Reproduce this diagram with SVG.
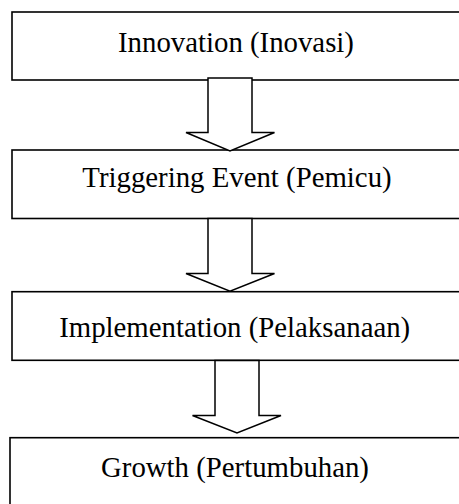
<svg xmlns="http://www.w3.org/2000/svg" width="459" height="504" viewBox="0 0 459 504">
<style>
.box{fill:#fff;stroke:#000;stroke-width:1.6}
.arr{fill:#fff;stroke:#000;stroke-width:1.5;stroke-linejoin:miter}
.lbl{font-family:"Liberation Serif","Times New Roman",serif;font-size:28.8px;fill:#000;text-anchor:middle}
</style>
<rect width="459" height="504" fill="#fff"/>
<g id="node-innovation">
<rect class="box" x="12" y="12" width="460" height="68"/>
<text class="lbl" x="236" y="52">Innovation (Inovasi)</text>
</g>
<g id="node-triggering">
<rect class="box" x="12" y="150" width="460" height="68.5"/>
<text class="lbl" x="237" y="187">Triggering Event (Pemicu)</text>
</g>
<g id="node-implementation">
<rect class="box" x="12" y="291.7" width="460" height="68.6"/>
<text class="lbl" x="234.7" y="336.7">Implementation (Pelaksanaan)</text>
</g>
<g id="node-growth">
<rect class="box" x="10" y="437.7" width="460" height="80"/>
<text class="lbl" x="235" y="476.7">Growth (Pertumbuhan)</text>
</g>
<g id="connectors">
<polygon class="arr" points="208,78 252,78 252,132.5 274.5,132.5 230,151 186,132.5 208,132.5"/>
<polygon class="arr" points="208,218.5 252,218.5 252,273.5 274.5,273.5 230,291.3 186,273.5 208,273.5"/>
<polygon class="arr" points="215,360.5 259,360.5 259,415.5 281,415.5 237,433 192.5,415.5 215,415.5"/>
</g>
</svg>
